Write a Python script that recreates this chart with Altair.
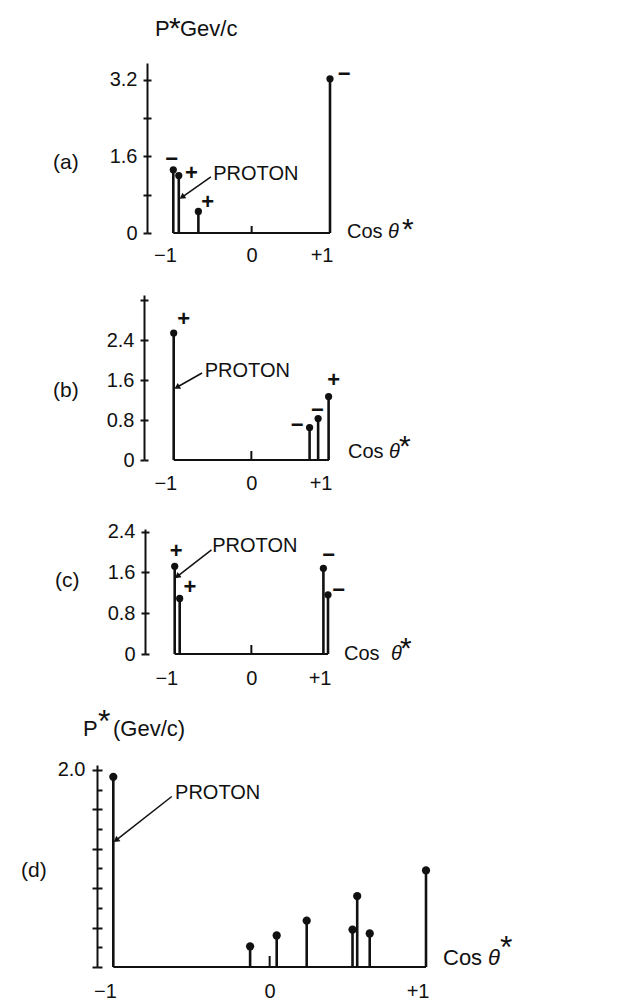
import math
import altair as alt
import pandas as pd

FONT = "Liberation Sans"
INK = "#111111"

# ---------------- data ----------------
# panel (a)
a_cos = [-1.0, -0.93, -0.68, 1.0]
a_p = [1.32, 1.20, 0.45, 3.22]
a_sign_cos = [-1.02, -0.77, -0.56, 1.18]
a_sign_p = [1.55, 1.25, 0.65, 3.33]
a_sign = ["−", "+", "+", "−"]
a_yticks = [0, 0.8, 1.6, 2.4, 3.2]
a_ylabels = ["0", "", "1.6", "", "3.2"]
a_proton_text = [-0.49, 1.24]
a_proton_arrow = [-0.52, 1.17, -0.915, 0.72]

# panel (b)
b_cos = [-1.0, 0.75, 0.86, 0.995]
b_p = [2.54, 0.65, 0.83, 1.27]
b_sign_cos = [-0.87, 0.59, 0.85, 1.06]
b_sign_p = [2.83, 0.71, 1.01, 1.61]
b_sign = ["+", "−", "−", "+"]
b_yticks = [0, 0.8, 1.6, 2.4, 3.2]
b_ylabels = ["0", "0.8", "1.6", "2.4", ""]
b_proton_text = [-0.60, 1.79]
b_proton_arrow = [-0.635, 1.74, -0.987, 1.43]

# panel (c)
c_cos = [-1.0, -0.935, 0.94, 1.0]
c_p = [1.72, 1.09, 1.68, 1.16]
c_sign_cos = [-0.98, -0.80, 1.01, 1.14]
c_sign_p = [2.02, 1.31, 1.94, 1.25]
c_sign = ["+", "+", "−", "−"]
c_yticks = [0, 0.8, 1.6, 2.4]
c_ylabels = ["0", "0.8", "1.6", "2.4"]
c_proton_text = [-0.51, 2.12]
c_proton_arrow = [-0.52, 2.04, -0.993, 1.49]

# panel (d)
d_cos = [-1.0, -0.125, 0.045, 0.237, 0.53, 0.56, 0.64, 1.0]
d_p = [1.93, 0.21, 0.32, 0.47, 0.38, 0.72, 0.34, 0.98]
d_sign_cos = []
d_sign_p = []
d_sign = []
d_yticks = [0, 0.2, 0.4, 0.6, 0.8, 1.0, 1.2, 1.4, 1.6, 1.8, 2.0]
d_ylabels = ["", "", "", "", "", "1.0", "", "", "", "", "2.0"]
d_proton_text = [-0.605, 1.77]
d_proton_arrow = [-0.626, 1.73, -0.995, 1.27]

x_ticks = [-1, 0, 1]
x_labels = ["−1", "0", "+1"]


def label_expr(values, labels):
    parts = []
    for v, l in zip(values, labels):
        parts.append(f"abs(datum.value - {v}) < 1e-6 ? '{l}' : ")
    return "".join(parts) + "''"


def panel(cos, p, scos, sp, sgn, yticks, ylabels, ptext, parrow, g):
    W, H = g["width"], g["height"]
    xs = alt.Scale(domain=[g["xmin"], 1.0], nice=False, zero=False)
    ys = alt.Scale(domain=[0, g["ymax"]], nice=False, zero=False)
    sx = W / (1.0 - g["xmin"])
    sy = H / g["ymax"]

    x_axis = alt.Axis(
        values=x_ticks, labelExpr=label_expr(x_ticks, x_labels), ticks=False,
        domain=False, grid=False, title=None, labelFont=FONT, labelFontSize=20,
        labelColor=INK, labelPadding=g["xlabpad"], labelFlush=False, labelOverlap=False,
        labelAlign={"condition": {"test": "datum.value == 0", "value": "center"}, "value": "right"},
        labelOffset={"condition": {"test": "datum.value == 0", "value": 0}, "value": 3},
    )
    y_axis = alt.Axis(
        values=yticks, labelExpr=label_expr(yticks, ylabels), orient="left",
        offset=g["yoff"], tickSize=g["tick"], tickWidth=2, tickColor=INK,
        domainWidth=2, domainColor=INK, grid=False, title=None, labelFont=FONT,
        labelFontSize=20, labelColor=INK, labelPadding=g["ylabpad"],
        labelOverlap=False, labelFlush=False, labelBaseline="middle",
    )
    ghost_axis = alt.Axis(
        values=yticks, orient="left", offset=g["yoff"] - g["tick"], tickSize=g["tick"],
        tickWidth=2, tickColor=INK, domain=False, labels=False, grid=False, title=None,
    )

    X = lambda f: alt.X(f, scale=xs)
    Y = lambda f: alt.Y(f, scale=ys)

    stems = pd.DataFrame({"cos": cos, "p": p})
    stem = alt.Chart(stems).mark_rule(color=INK, strokeWidth=2.6).encode(
        x=alt.X("cos:Q", scale=xs, axis=x_axis),
        y=alt.Y("p:Q", scale=ys, axis=y_axis),
        y2=alt.datum(0),
    )
    dots = alt.Chart(stems).mark_circle(color=INK, opacity=1, size=g["dot"]).encode(
        x=X("cos:Q"), y=Y("p:Q"))

    base = alt.Chart(pd.DataFrame({"x": [-1.0], "x2": [1.0], "y": [0.0]})).mark_rule(
        color=INK, strokeWidth=2).encode(x=X("x:Q"), x2="x2:Q", y=Y("y:Q"))
    ztick = alt.Chart(pd.DataFrame({"x": [0.0]})).mark_rule(color=INK, strokeWidth=2).encode(
        x=X("x:Q"), y=alt.value(H), y2=alt.value(H - g["ztick"]))

    layers = [base, ztick, stem, dots]

    if sgn:
        sdf = pd.DataFrame({"x": scos, "y": sp, "t": sgn})
        layers.append(alt.Chart(sdf).mark_text(
            font=FONT, fontSize=22, fontWeight="bold", color=INK, align="center",
            baseline="middle").encode(x=X("x:Q"), y=Y("y:Q"), text="t:N"))

    # PROTON label and arrow
    layers.append(alt.Chart(pd.DataFrame({"x": [ptext[0]], "y": [ptext[1]], "t": ["PROTON"]}))
                  .mark_text(font=FONT, fontSize=20, color=INK, align="left", baseline="middle")
                  .encode(x=X("x:Q"), y=Y("y:Q"), text="t:N"))
    x1, y1, x2, y2 = parrow
    dxp, dyp = (x2 - x1) * sx, -(y2 - y1) * sy
    ln = math.hypot(dxp, dyp)
    ang = math.degrees(math.atan2(dxp, -dyp)) % 360
    back = 3.5
    hx = x2 - dxp / ln * back / sx
    hy = y2 + dyp / ln * back / sy
    layers.append(alt.Chart(pd.DataFrame({"x": [x1], "y": [y1], "x2": [hx], "y2": [hy]}))
                  .mark_rule(color=INK, strokeWidth=1.5)
                  .encode(x=X("x:Q"), y=Y("y:Q"), x2="x2:Q", y2="y2:Q"))
    layers.append(alt.Chart(pd.DataFrame({"x": [hx], "y": [hy]}))
                  .mark_point(shape="triangle", filled=True, opacity=1, color=INK, size=45, angle=ang)
                  .encode(x=X("x:Q"), y=Y("y:Q")))

    # Cos theta* label anchored at (+1, 0)
    anchor = pd.DataFrame({"x": [1.0], "y": [0.0], "c": ["Cos"], "th": ["θ"], "st": ["*"]})
    cfs = g["cosfs"]
    layers.append(alt.Chart(anchor).mark_text(
        font=FONT, fontSize=cfs, color=INK, align="left", baseline="middle",
        dx=g["cosdx"], dy=g["cosdy"]).encode(x=X("x:Q"), y=Y("y:Q"), text="c:N"))
    layers.append(alt.Chart(anchor).mark_text(
        font=FONT, fontSize=cfs, fontStyle="italic", color=INK, align="left", baseline="middle",
        dx=g["cosdx"] + g["thgap"], dy=g["cosdy"]).encode(x=X("x:Q"), y=Y("y:Q"), text="th:N"))
    layers.append(alt.Chart(anchor).mark_text(
        font=FONT, fontSize=g["starfs"], color=INK, align="left", baseline="alphabetic",
        dx=g["cosdx"] + g["stgap"], dy=g["cosdy"] + g["stdy"]).encode(
        x=X("x:Q"), y=Y("y:Q"), text="st:N"))

    # panel letter
    layers.append(alt.Chart(pd.DataFrame({"t": [g["letter"]]})).mark_text(
        font=FONT, fontSize=21, color=INK, align="left", baseline="middle").encode(
        x=alt.value(g["letx"]), y=alt.value(g["lety"]), text="t:N"))

    # axis title (P* ...)
    if "title" in g:
        tx, ty, tfs, txt, sx_, sy_, sfs, gx = g["title"]
        tdf = pd.DataFrame({"p": ["P"], "s": ["*"], "u": [txt]})
        layers.append(alt.Chart(tdf).mark_text(font=FONT, fontSize=tfs, color=INK, align="left",
                                               baseline="alphabetic").encode(
            x=alt.value(tx), y=alt.value(ty), text="p:N"))
        layers.append(alt.Chart(tdf).mark_text(font=FONT, fontSize=sfs, color=INK, align="left",
                                               baseline="alphabetic").encode(
            x=alt.value(sx_), y=alt.value(sy_), text="s:N"))
        layers.append(alt.Chart(tdf).mark_text(font=FONT, fontSize=tfs, color=INK, align="left",
                                               baseline="alphabetic").encode(
            x=alt.value(gx), y=alt.value(ty), text="u:N"))

    main = alt.layer(*layers)
    ghost = alt.Chart(stems).mark_point(opacity=0).encode(
        y=alt.Y("p:Q", scale=ys, axis=ghost_axis))
    return alt.layer(main, ghost).resolve_scale(y="independent").properties(width=W, height=H)


def spacer(h):
    return alt.Chart(pd.DataFrame({"v": [0]})).mark_point(opacity=0).encode(
        x=alt.X("v:Q", axis=None), y=alt.Y("v:Q", axis=None)).properties(width=10, height=h)


GA = dict(width=230, height=170, ymax=3.55, xmin=1 - 230 / 78.35, yoff=-47, tick=4,
          xlabpad=12, ylabpad=6, dot=52, ztick=7, cosfs=20, cosdx=17, cosdy=-1,
          thgap=41, stgap=55, starfs=30, stdy=7, letter="(a)", letx=-47, lety=100,
          title=(55, -27, 22, "Gev/c", 69, -25, 30, 80))
GB = dict(width=229, height=165, ymax=3.3, xmin=1 - 229 / 77.65, yoff=-44, tick=4,
          xlabpad=13, ylabpad=6, dot=52, ztick=9, cosfs=20, cosdx=19, cosdy=-8,
          thgap=41, stgap=51, starfs=30, stdy=4, letter="(b)", letx=-47, lety=96)
GC = dict(width=228, height=125, ymax=2.45, xmin=1 - 228 / 76.65, yoff=-45, tick=4,
          xlabpad=14, ylabpad=6, dot=52, ztick=9, cosfs=20, cosdx=16, cosdy=0,
          thgap=47, stgap=56, starfs=30, stdy=4, letter="(c)", letx=-45, lety=52)
GD = dict(width=326, height=202, ymax=2.05, xmin=1 - 326 / 156.35, yoff=3, tick=5,
          xlabpad=14, ylabpad=7, dot=68, ztick=11, cosfs=22, cosdx=17, cosdy=-9,
          thgap=45, stgap=57, starfs=32, stdy=0, letter="(d)", letx=-79, lety=106,
          title=(-17, -29, 22, "(Gev/c)", -2, -33, 32, 13))

pa = panel(a_cos, a_p, a_sign_cos, a_sign_p, a_sign, a_yticks, a_ylabels, a_proton_text, a_proton_arrow, GA)
pb = panel(b_cos, b_p, b_sign_cos, b_sign_p, b_sign, b_yticks, b_ylabels, b_proton_text, b_proton_arrow, GB)
pc = panel(c_cos, c_p, c_sign_cos, c_sign_p, c_sign, c_yticks, c_ylabels, c_proton_text, c_proton_arrow, GC)
pdd = panel(d_cos, d_p, d_sign_cos, d_sign_p, d_sign, d_yticks, d_ylabels, d_proton_text, d_proton_arrow, GD)

chart = alt.vconcat(
    pa, spacer(61.7), pb, spacer(69), pc, spacer(110.3), pdd, spacing=0, bounds="flush"
).properties(
    padding={"left": 13, "top": 6, "right": 10, "bottom": 5}, background="white"
).configure_view(stroke=None)

chart.save("out.html", embed_options={"renderer": "svg", "actions": False})
